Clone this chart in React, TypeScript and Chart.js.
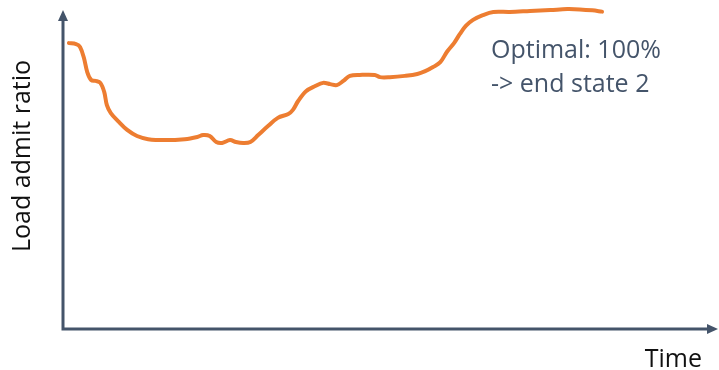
import React, { useEffect, useRef } from "react";
import { Chart, registerables } from "chart.js";

Chart.register(...registerables);

// Time (0..100 across the x axis) and load admit ratio (%)
const timeValues = [
  0.9, 2.0, 2.6, 3.2, 3.7, 4.3, 5.0, 5.7, 6.3, 6.7, 7.3, 8.4, 9.8, 11.3, 13.0,
  15.6, 18.6, 20.5, 21.4, 22.4, 23.4, 24.3, 25.5, 26.4, 27.5, 28.6, 29.8, 31.3,
  32.8, 34.4, 35.1, 35.9, 37.1, 38.5, 39.7, 40.8, 41.8, 42.8, 43.8, 45.3, 47.6,
  48.4, 49.9, 52.2, 54.1, 55.3, 56.5, 57.6, 58.6, 59.7, 60.6, 61.5, 62.6, 64.1,
  65.7, 68.2, 71.3, 74.4, 77.0, 78.9, 80.8, 82.3,
];
const admitRatio = [
  89.9, 89.6, 88.7, 85.2, 80.8, 78.3, 78.0, 77.4, 74.5, 70.4, 67.9, 65.4, 62.6,
  60.7, 59.7, 59.4, 59.7, 60.4, 61.0, 60.7, 58.8, 58.5, 59.4, 58.8, 58.5, 58.8,
  61.0, 63.8, 66.4, 67.6, 68.9, 71.7, 74.8, 76.4, 77.4, 77.0, 76.7, 78.0, 79.6,
  79.9, 79.9, 79.2, 79.2, 79.6, 80.2, 81.1, 82.4, 83.9, 87.1, 89.9, 92.8, 95.3,
  97.2, 98.7, 99.7, 99.7, 100.0, 100.3, 100.6, 100.5, 100.2, 99.8,
];
const yAxisTitle = "Load admit ratio";
const xAxisTitle = "Time";
const noteLines = ["Optimal: 100%", "-> end state 2"];

const AXIS_COLOR = "#44546A";
const LINE_COLOR = "#ED7D31";
const FONT_FAMILY = "'Open Sans', 'Noto Sans', sans-serif";

const axesPlugin = {
  id: "arrowAxes",
  beforeDatasetsDraw(chart: any) {
    const { ctx, chartArea } = chart;
    const { left, right, bottom } = chartArea;
    ctx.save();
    ctx.strokeStyle = AXIS_COLOR;
    ctx.fillStyle = AXIS_COLOR;
    ctx.lineWidth = 3;
    ctx.lineCap = "butt";
    ctx.lineJoin = "miter";
    const yTip = 10;
    const xTip = right;
    const headLen = 11;
    const headHalf = 5;
    ctx.beginPath();
    ctx.moveTo(left, yTip + headLen - 1);
    ctx.lineTo(left, bottom);
    ctx.lineTo(xTip - headLen + 1, bottom);
    ctx.stroke();
    // y arrow head
    ctx.beginPath();
    ctx.moveTo(left, yTip);
    ctx.lineTo(left - headHalf, yTip + headLen);
    ctx.lineTo(left + headHalf, yTip + headLen);
    ctx.closePath();
    ctx.fill();
    // x arrow head
    ctx.beginPath();
    ctx.moveTo(xTip, bottom);
    ctx.lineTo(xTip - headLen, bottom - headHalf);
    ctx.lineTo(xTip - headLen, bottom + headHalf);
    ctx.closePath();
    ctx.fill();
    ctx.restore();
  },
  afterDraw(chart: any) {
    const { ctx } = chart;
    ctx.save();
    ctx.font = `25px ${FONT_FAMILY}`;
    ctx.textBaseline = "alphabetic";
    // annotation
    ctx.fillStyle = AXIS_COLOR;
    ctx.textAlign = "left";
    ctx.fillText(noteLines[0], 491, 58);
    ctx.fillText(noteLines[1], 491, 92);
    // x title
    ctx.fillStyle = "#111111";
    ctx.textAlign = "right";
    ctx.fillText(xAxisTitle, 702, 367);
    // y title
    ctx.translate(30, 156);
    ctx.rotate(-Math.PI / 2);
    ctx.textAlign = "center";
    ctx.fillText(yAxisTitle, 0, 0);
    ctx.restore();
  },
};

export default function App() {
  const canvasRef = useRef<HTMLCanvasElement | null>(null);

  useEffect(() => {
    const canvas = canvasRef.current;
    if (!canvas) return;
    const chart = new Chart(canvas, {
      type: "line",
      data: {
        datasets: [
          {
            label: "Load admit ratio",
            data: timeValues.map((t, i) => ({ x: t, y: admitRatio[i] })),
            borderColor: LINE_COLOR,
            borderWidth: 4,
            pointRadius: 0,
            tension: 0.35,
            borderCapStyle: "round",
            borderJoinStyle: "round",
            fill: false,
          },
        ],
      },
      options: {
        animation: false,
        responsive: false,
        devicePixelRatio: 1,
        layout: { padding: { left: 63, right: 1, top: 11, bottom: 41 } },
        plugins: {
          legend: { display: false },
          tooltip: { enabled: false },
          title: { display: false },
        },
        scales: {
          x: { type: "linear", min: 0, max: 100, display: false },
          y: { type: "linear", min: 0, max: 100, display: false },
        },
        clip: false,
      } as any,
      plugins: [axesPlugin],
    });
    return () => chart.destroy();
  }, []);

  return (
    <div style={{ position: "absolute", left: 0, top: 0, width: 719, height: 370, background: "#ffffff" }}>
      <canvas ref={canvasRef} width={719} height={370} style={{ display: "block" }} />
    </div>
  );
}
